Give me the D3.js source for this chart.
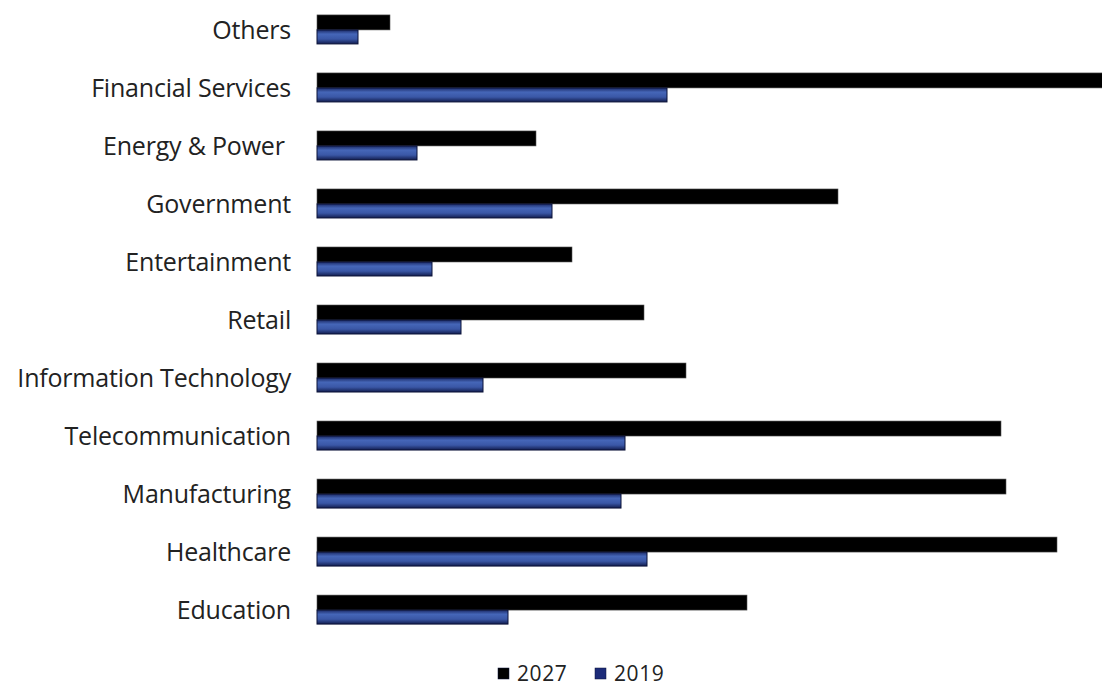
<!DOCTYPE html>
<html>
<head>
<meta charset="utf-8">
<script src="https://cdn.jsdelivr.net/npm/d3@7"></script>
<style>
  html, body { margin: 0; padding: 0; background: #fff; }
  svg { display: block; }
  text { font-family: "Open Sans", Lato, sans-serif; fill: #222; }
</style>
</head>
<body>
<svg id="chart" width="1102" height="686"></svg>
<script>
// Market size by end-use industry
const categories = [
  "Others", "Financial Services", "Energy & Power ", "Government", "Entertainment",
  "Retail", "Information Technology", "Telecommunication", "Manufacturing",
  "Healthcare", "Education"
];
const seriesNames = ["2027", "2019"];
const values2027 = [73, 795, 219, 521, 255, 327, 369, 684, 689, 740, 430];
const values2019 = [41, 350, 100, 235, 115, 144, 166, 308, 304, 330, 191];

const svg = d3.select("#chart");

const x = d3.scaleLinear().domain([0, 800]).range([317, 1117]);
const y = d3.scaleBand().domain(categories).range([1, 639])
  .paddingInner(0.483).paddingOuter(0.24);
const ySub = d3.scaleBand().domain(seriesNames).range([0, y.bandwidth()]);

const defs = svg.append("defs");
const grad = defs.append("linearGradient").attr("id", "blueBar")
  .attr("x1", 0).attr("y1", 0).attr("x2", 0).attr("y2", 1);
grad.append("stop").attr("offset", "0%").attr("stop-color", "#1b2a66");
grad.append("stop").attr("offset", "30%").attr("stop-color", "#4566b8");
grad.append("stop").attr("offset", "65%").attr("stop-color", "#3a57a6");
grad.append("stop").attr("offset", "100%").attr("stop-color", "#121d4f");

const rows = categories.map((c, i) => ({ cat: c, v2027: values2027[i], v2019: values2019[i] }));

const g = svg.append("g");
const groups = g.selectAll("g.row").data(rows).join("g")
  .attr("class", "row")
  .attr("transform", d => `translate(0,${y(d.cat)})`);

groups.append("rect")
  .attr("x", x(0))
  .attr("y", ySub("2027"))
  .attr("width", d => x(d.v2027) - x(0))
  .attr("height", ySub.bandwidth())
  .attr("fill", "#000")
  .attr("stroke", "#555").attr("stroke-width", 0.6);

groups.append("rect")
  .attr("x", x(0))
  .attr("y", ySub("2019"))
  .attr("width", d => x(d.v2019) - x(0))
  .attr("height", ySub.bandwidth() - 1)
  .attr("fill", "url(#blueBar)")
  .attr("stroke", "#0b1238").attr("stroke-width", 1);

// Category labels
const yAxis = d3.axisLeft(y).tickSize(0).tickPadding(0);
const axisG = svg.append("g").attr("transform", "translate(291,0)").call(yAxis);
axisG.select(".domain").remove();
axisG.selectAll("text")
  .style("font-family", "'Open Sans', Lato, sans-serif")
  .style("font-size", "25px")
  .style("letter-spacing", "-0.2px")
  .style("white-space", "pre")
  .attr("fill", "#222")
  .attr("dy", "0.36em");

// Legend
const legend = svg.append("g").attr("transform", "translate(0,673)");
const legendItems = [
  { name: "2027", fill: "#000", sx: 498, tx: 517 },
  { name: "2019", fill: "#1c2b78", sx: 595, tx: 614 }
];
legend.selectAll("rect").data(legendItems).join("rect")
  .attr("x", d => d.sx).attr("y", -5).attr("width", 11).attr("height", 11)
  .attr("fill", d => d.fill).attr("stroke", "#0b1238").attr("stroke-width", 0.5);
legend.selectAll("text").data(legendItems).join("text")
  .attr("x", d => d.tx).attr("y", 0).attr("dy", "0.36em")
  .style("font-size", "21px")
  .style("letter-spacing", "0.6px")
  .text(d => d.name);
</script>
</body>
</html>
